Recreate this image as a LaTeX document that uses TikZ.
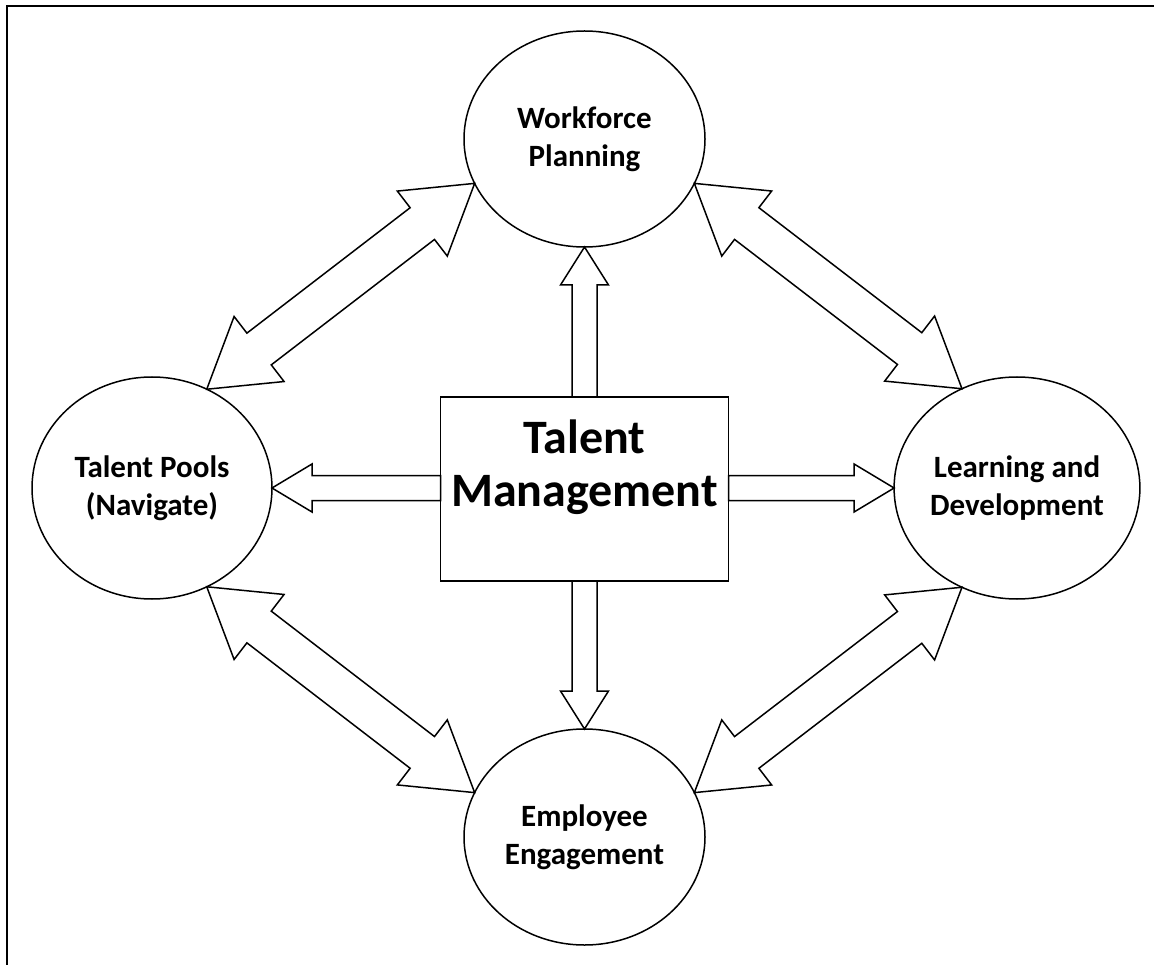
\documentclass[tikz,border=0pt]{standalone}
\usepackage{fontspec}
\setmainfont{Carlito}
\usepackage{tikz}
\usetikzlibrary{shapes,calc}
\newcommand{\linew}{1.5pt}
\newcommand{\areafont}{\fontsize{31}{38}\selectfont\bfseries}
\newcommand{\hubfont}{\fontsize{48}{53}\selectfont\bfseries}

\tikzset{
    area/.style={ellipse, draw, line width=\linew, fill=white, minimum width=241pt,
        minimum height=216pt, inner sep=0pt, outer sep=0pt, align=center, font=\areafont},
    hub/.style={rectangle, draw, line width=\linew, minimum width=288pt,
        minimum height=184pt, inner sep=0pt, outer sep=0pt},
    hubtext/.style={align=center, font=\hubfont, inner sep=0pt},
    oneway/.style args={#1/#2/#3}{fill=white, line width=\linew, to path={
        ($(\tikztostart)!#1!90:(\tikztotarget)$)
        -- ($(\tikztotarget)!#3!(\tikztostart)!#1!-90:(\tikztostart)$)
        -- ($(\tikztotarget)!#3!(\tikztostart)!#2!-90:(\tikztostart)$)
        -- (\tikztotarget)
        -- ($(\tikztotarget)!#3!(\tikztostart)!#2!90:(\tikztostart)$)
        -- ($(\tikztotarget)!#3!(\tikztostart)!#1!90:(\tikztostart)$)
        -- ($(\tikztostart)!#1!-90:(\tikztotarget)$) -- cycle}},
    twoway/.style args={#1/#2/#3}{fill=white, line width=\linew, to path={
        -- ($(\tikztostart)!#3!(\tikztotarget)!#2!90:(\tikztotarget)$)
        -- ($(\tikztostart)!#3!(\tikztotarget)!#1!90:(\tikztotarget)$)
        -- ($(\tikztotarget)!#3!(\tikztostart)!#1!-90:(\tikztostart)$)
        -- ($(\tikztotarget)!#3!(\tikztostart)!#2!-90:(\tikztostart)$)
        -- (\tikztotarget)
        -- ($(\tikztotarget)!#3!(\tikztostart)!#2!90:(\tikztostart)$)
        -- ($(\tikztotarget)!#3!(\tikztostart)!#1!90:(\tikztostart)$)
        -- ($(\tikztostart)!#3!(\tikztotarget)!#1!-90:(\tikztotarget)$)
        -- ($(\tikztostart)!#3!(\tikztotarget)!#2!-90:(\tikztotarget)$)
        -- cycle}}
}

\begin{document}
\begin{tikzpicture}[x=1pt,y=-1pt]
        \begin{scope}
            %\draw[help lines,step=50] (0,0) grid (1154,965);
            \useasboundingbox (0,0) rectangle (1154,965);
            \draw[line width=2pt] (7,965) -- (7,6) -- (1154,6);

            \node[hub]  (tm) at (584.5,489) {};
            \node[hubtext] (tmtext) at ([yshift=22pt]tm.center) {Talent\\Management};
            \node[area] (wp) at (584.5,139) {Workforce\\Planning};
            \node[area, minimum width=240pt, minimum height=222pt] (tp) at (152,488) {Talent Pools\\(Navigate)};
            \node[area, minimum width=240pt, minimum height=222pt] (ld) at (1017,488) {Learning and\\Development};
            \node[area] (ee) at (584.5,837) {Employee\\Engagement};

            \draw[oneway=12.5pt/24pt/38pt] (tm.north) to (wp.south);
            \draw[oneway=12.5pt/24pt/38pt] (tm.south) to (ee.north);
            \draw[oneway=12.5pt/24pt/40pt] (tm.west |- tp.east) to (tp.east);
            \draw[oneway=12.5pt/24pt/40pt] (tm.east |- ld.west) to (ld.west);

            \draw[twoway=20pt/41pt/66pt] (tp.61) to (wp.202);
            \draw[twoway=20pt/41pt/66pt] (wp.338) to (ld.119);
            \draw[twoway=20pt/41pt/66pt] (tp.299) to (ee.158);
            \draw[twoway=20pt/41pt/66pt] (ld.241) to (ee.22);
        \end{scope}
    \end{tikzpicture}
\end{document}
